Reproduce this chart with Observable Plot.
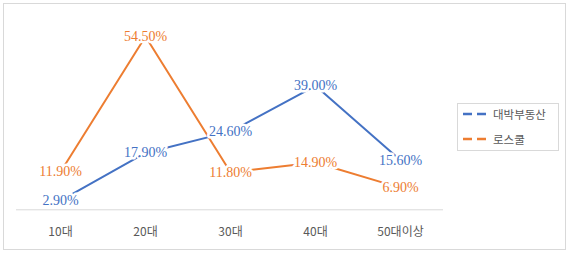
<!DOCTYPE html>
<html>
<head>
<meta charset="utf-8">
<script src="https://cdn.jsdelivr.net/npm/d3@7"></script>
<script src="https://cdn.jsdelivr.net/npm/@observablehq/plot@0.6"></script>
<style>
  html, body { margin: 0; padding: 0; background: #fff; }
  #wrap { position: relative; width: 569px; height: 253px; overflow: hidden; }
  #frame { position: absolute; left: 3px; top: 3px; width: 561px; height: 245px; border: 1px solid #d9d9d9; pointer-events: none; }
  #legend { position: absolute; left: 457px; top: 103px; width: 100px; height: 46px; border: 1px solid #d9d9d9; background: #fff;
            font-family: "Noto Sans CJK KR", sans-serif; font-size: 11.5px; color: #595959; }
  .row { position: absolute; left: 0; height: 16px; display: flex; align-items: center; }
  .row svg { margin-left: 5px; margin-right: 4px; }
</style>
</head>
<body>
<div id="wrap">
  <div id="chart"></div>
  <div id="frame"></div>
  <div id="legend"></div>
</div>
<script>
const categories = ["10대", "20대", "30대", "40대", "50대이상"];
const seriesNames = ["대박부동산", "로스쿨"];
const daebak = [2.9, 17.9, 24.6, 39.0, 15.6];
const loschool = [11.9, 54.5, 11.8, 14.9, 6.9];
const seriesColors = ["#4472C4", "#ED7D31"];

const rows = [];
[daebak, loschool].forEach((vals, si) => {
  vals.forEach((v, i) => rows.push({series: seriesNames[si], cat: categories[i], value: v}));
});

const chart = Plot.plot({
  width: 569,
  height: 253,
  marginLeft: 16,
  marginRight: 126,
  marginTop: 18.6,
  marginBottom: 43.7,
  style: {background: "transparent"},
  x: {type: "point", domain: categories, padding: 0.5},
  y: {domain: [0, 60], axis: null},
  color: {domain: seriesNames, range: seriesColors},
  marks: [
    Plot.ruleY([0], {stroke: "#d9d9d9", strokeWidth: 1}),
    Plot.axisX({tickSize: 0, tickPadding: 18, label: null, fontSize: 12, fill: "#595959",
                fontFamily: "'Noto Sans CJK KR', sans-serif"}),
    Plot.lineY(rows, {x: "cat", y: "value", z: "series", stroke: "series", strokeWidth: 2}),
    Plot.text(rows, {x: "cat", y: "value", text: d => d.value.toFixed(2) + "%", fill: "series",
                     stroke: "white", strokeWidth: 5, fontSize: 14,
                     fontFamily: "'Liberation Serif', serif"})
  ]
});
document.getElementById("chart").appendChild(chart);

const legend = document.getElementById("legend");
seriesNames.forEach((name, i) => {
  const row = document.createElement("div");
  row.className = "row";
  row.style.top = (i === 0 ? 2 : 27) + "px";
  row.innerHTML = `<svg width="26" height="4"><line x1="0" y1="2" x2="26" y2="2" stroke="${seriesColors[i]}" stroke-width="2.5" stroke-dasharray="9,5"/></svg><span>${name}</span>`;
  legend.appendChild(row);
});
</script>
</body>
</html>
